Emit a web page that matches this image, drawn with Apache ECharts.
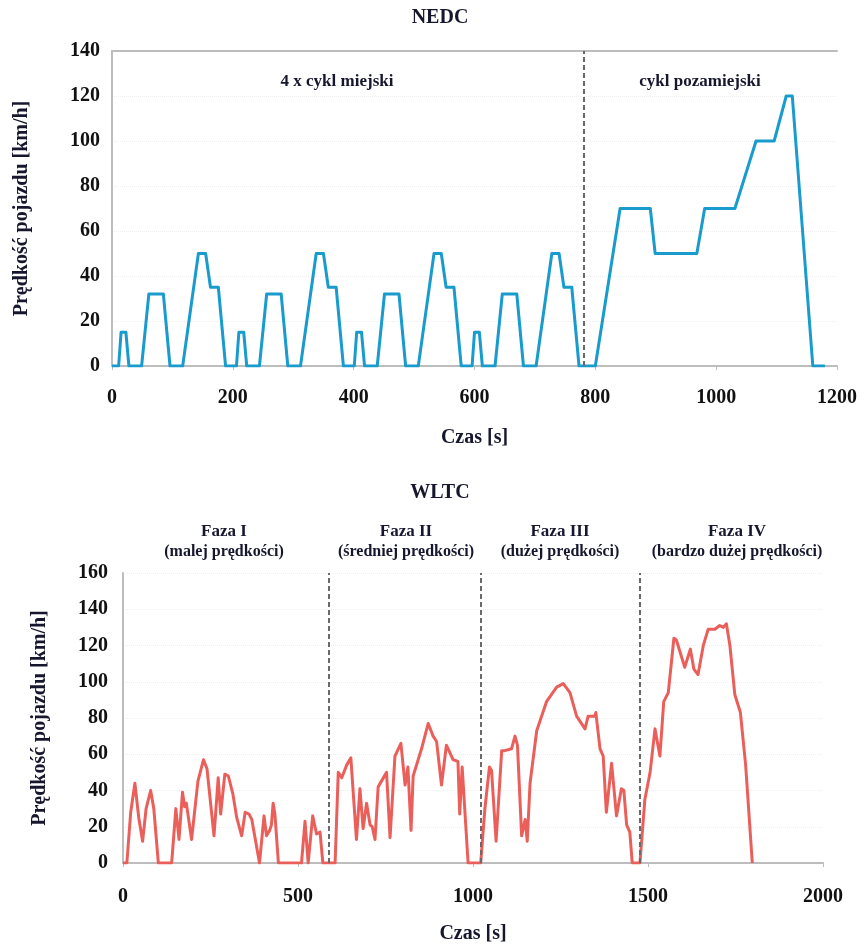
<!DOCTYPE html>
<html>
<head>
<meta charset="utf-8">
<script src="https://cdn.jsdelivr.net/npm/echarts@6/dist/echarts.min.js"></script>
<style>
  html, body { margin: 0; padding: 0; background: #fff; }
  #chart { width: 862px; height: 945px; }
</style>
</head>
<body>
<div id="chart"></div>
<script>
// NEDC: 4 x cykl miejski + cykl pozamiejski
const nedcTime = [
  0, 11, 15, 23, 28, 49, 61, 85, 96, 117, 143, 155, 163, 176, 188,
  195, 206, 210, 218, 223, 244, 256, 280, 291, 312, 338, 350, 358, 371, 383,
  390, 401, 405, 413, 418, 439, 451, 475, 486, 507, 533, 545, 553, 566, 578,
  585, 596, 600, 608, 613, 634, 646, 670, 681, 702, 728, 740, 748, 761, 773,
  780, 800, 841, 891, 899, 968, 981, 1031, 1066, 1096, 1116, 1126, 1160, 1180
]
const nedcSpeed = [
  0, 0, 15, 15, 0, 0, 32, 32, 0, 0, 50, 50, 35, 35, 0,
  0, 0, 15, 15, 0, 0, 32, 32, 0, 0, 50, 50, 35, 35, 0,
  0, 0, 15, 15, 0, 0, 32, 32, 0, 0, 50, 50, 35, 35, 0,
  0, 0, 15, 15, 0, 0, 32, 32, 0, 0, 50, 50, 35, 35, 0,
  0, 0, 70, 70, 50, 50, 70, 70, 100, 100, 120, 120, 0, 0
]
const nedcBorders = [780]

// WLTC: fazy I-IV
const wltcTime = [
  0, 11, 22, 34, 45, 56, 66, 79, 88, 101, 139, 151, 160, 170, 176, 181, 196, 214, 230, 240,
  260, 272, 279, 291, 301, 314, 325, 339, 349, 360, 368, 390, 403, 410, 419, 424, 429, 434, 444, 510,
  520, 529, 542, 553, 563, 571, 589,
  606, 615, 625, 639, 651, 667, 677, 686, 696, 706, 712, 720, 729, 753, 763, 777, 794, 806, 814, 823,
  829, 853, 872, 886, 896, 910, 924, 943, 957, 962, 969, 986, 1022,
  1025, 1034, 1047, 1053, 1066, 1082, 1091, 1110, 1120, 1127, 1139, 1149, 1155, 1163, 1182, 1210, 1239,
  1258, 1277, 1296, 1320, 1329, 1348, 1351, 1363, 1372, 1381, 1396, 1410, 1424, 1431, 1439, 1448, 1455, 1477,
  1479, 1491, 1506, 1520, 1534, 1545, 1558, 1574, 1581, 1605, 1621, 1631, 1643, 1658, 1672, 1691, 1705,
  1715, 1724, 1734, 1748, 1764, 1779, 1798, 1800
]
const wltcSpeed = [
  0, 0, 28, 44, 25, 12, 30, 40, 30, 0, 0, 30, 13, 39, 31, 33, 13, 45, 57, 52,
  15, 47, 27, 49, 48, 38, 25, 15, 28, 27, 24, 0, 26, 15, 18, 21, 33, 27, 0, 0,
  23, 0, 26, 16, 17, 0, 0,
  0, 50, 47, 54, 58, 13, 41, 19, 33, 21, 20, 13, 42, 50, 14, 59, 66, 43, 53, 18,
  48, 63, 77, 70, 67, 43, 65, 57, 56, 27, 53, 0, 0,
  0, 30, 53, 51, 12, 62, 62, 63, 70, 65, 15, 24, 12, 44, 73, 89, 97,
  99, 94, 81, 74, 81, 81, 83, 63, 59, 28, 55, 26, 41, 40, 21, 17, 0, 0,
  0, 35, 50, 74, 59, 89, 94, 124, 123, 108, 118, 107, 104, 120, 129, 129, 131,
  130, 132, 120, 93, 83, 54, 0, 0
]
const wltcBorders = [589, 1022, 1477]

const nedcTicks = {min: 0, max: 1200, interval: 200}
const nedcYTicks = {min: 0, max: 140, interval: 20}
const wltcTicks = {min: 0, max: 2000, interval: 500}
const wltcYTicks = {min: 0, max: 160, interval: 20}

const font = 'Liberation Serif'
const textColor = '#16162e'
const axisGray = '#bdbdbd'

const zip = (xs, ys) => xs.map((x, i) => [x, ys[i]])

function xAxisFor(gridIndex, ticks, margin, nameGap) {
  return {
    type: 'value',
    gridIndex,
    min: ticks.min,
    max: ticks.max,
    interval: ticks.interval,
    name: 'Czas [s]',
    nameLocation: 'middle',
    nameGap,
    nameTextStyle: {fontFamily: font, fontWeight: 'bold', fontSize: 20, color: textColor},
    axisLine: {show: true, lineStyle: {color: axisGray, width: 2}},
    axisTick: {show: true, length: 4, lineStyle: {color: axisGray}},
    axisLabel: {
      fontFamily: font, fontWeight: 'bold', fontSize: 20, color: '#111', margin,
      formatter: v => String(v), // bez separatora tysięcy
    },
    splitLine: {show: false},
  }
}

function yAxisFor(gridIndex, ticks, margin, nameGap) {
  return {
    type: 'value',
    gridIndex,
    min: ticks.min,
    max: ticks.max,
    interval: ticks.interval,
    name: 'Prędkość pojazdu [km/h]',
    nameLocation: 'middle',
    nameGap,
    nameTextStyle: {fontFamily: font, fontWeight: 'bold', fontSize: 20, color: textColor},
    axisLine: {show: true, lineStyle: {color: axisGray, width: 2}},
    axisTick: {show: false},
    axisLabel: {
      fontFamily: font, fontWeight: 'bold', fontSize: 20, color: '#111', margin,
      formatter: v => String(v),
    },
    splitLine: {show: true, lineStyle: {color: '#efefef', type: 'dotted'}},
  }
}

function borderLines(values) {
  return {
    silent: true,
    symbol: 'none',
    label: {show: false},
    lineStyle: {color: '#6a6a6a', type: [5, 3], width: 2},
    data: values.map(v => ({xAxis: v})),
  }
}

const label = (text, x, y, size) => ({
  type: 'text',
  x, y,
  style: {
    text, fontFamily: font, fontWeight: 'bold', fontSize: size,
    fill: textColor, align: 'center', verticalAlign: 'middle',
  },
})

const chart = echarts.init(document.getElementById('chart'))
window.addEventListener('resize', () => setTimeout(chart.resize, 200))

const options = {
  animation: false,
  grid: [
    {left: 112, top: 51, width: 725, height: 315},
    {left: 123, top: 573, width: 700, height: 291},
  ],
  xAxis: [
    xAxisFor(0, nedcTicks, 22, 62),
    xAxisFor(1, wltcTicks, 24, 61),
    {
      // górna krawędź wykresu NEDC
      type: 'value', gridIndex: 0, position: 'top',
      min: nedcTicks.min, max: nedcTicks.max,
      axisLine: {show: true, lineStyle: {color: axisGray, width: 2}},
      axisTick: {show: false}, axisLabel: {show: false}, splitLine: {show: false},
    },
  ],
  yAxis: [
    yAxisFor(0, nedcYTicks, 12, 80),
    yAxisFor(1, wltcYTicks, 15, 73),
  ],
  graphic: [
    label('NEDC', 440, 18, 20),
    label('4 x cykl miejski', 337, 82, 17),
    label('cykl pozamiejski', 700, 82, 17),
    label('WLTC', 440, 493, 20),
    label('Faza I', 224, 532, 17),
    label('(malej prędkości)', 224, 552, 16),
    label('Faza II', 406, 532, 17),
    label('(średniej prędkości)', 406, 552, 16),
    label('Faza III', 560, 532, 17),
    label('(dużej prędkości)', 560, 552, 16),
    label('Faza IV', 737, 532, 17),
    label('(bardzo dużej prędkości)', 737, 552, 16),
  ],
  series: [
    {
      name: 'NEDC',
      type: 'line',
      xAxisIndex: 0,
      yAxisIndex: 0,
      data: zip(nedcTime, nedcSpeed),
      showSymbol: false,
      lineStyle: {color: '#1a9bcd', width: 3, join: 'round'},
      markLine: borderLines(nedcBorders),
      z: 3,
    },
    {
      name: 'WLTC',
      type: 'line',
      xAxisIndex: 1,
      yAxisIndex: 1,
      data: zip(wltcTime, wltcSpeed),
      showSymbol: false,
      lineStyle: {color: '#eb5f5a', width: 3, join: 'round'},
      markLine: borderLines(wltcBorders),
      z: 3,
    },
  ],
}
options && chart.setOption(options)
</script>
</body>
</html>
